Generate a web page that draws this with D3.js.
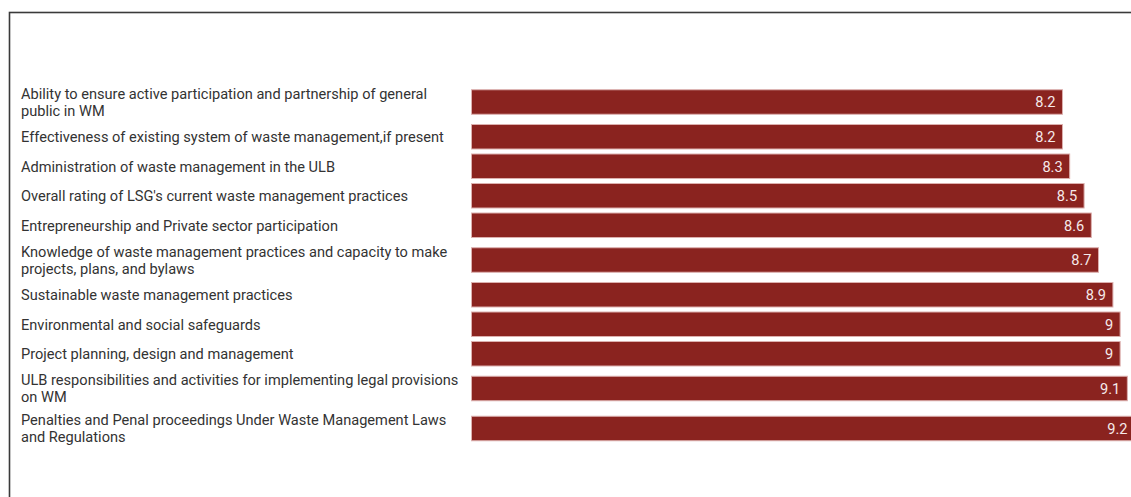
<!DOCTYPE html>
<html>
<head>
<meta charset="utf-8">
<script src="https://cdn.jsdelivr.net/npm/d3@7"></script>
<style>
  html, body { margin: 0; padding: 0; background: #fff; overflow: hidden; }
  svg { display: block; font-family: Roboto, "Noto Sans", sans-serif; }
</style>
</head>
<body>
<svg id="chart" width="1131" height="497"></svg>
<script>
// Ratings by assessment area
const categories = [
  "Ability to ensure active participation and partnership of general public in WM",
  "Effectiveness of existing system of waste management,if present",
  "Administration of waste management in the ULB",
  "Overall rating of LSG's current waste management practices",
  "Entrepreneurship and Private sector participation",
  "Knowledge of waste management practices and capacity to make projects, plans, and bylaws",
  "Sustainable waste management practices",
  "Environmental and social safeguards",
  "Project planning, design and management",
  "ULB responsibilities and activities for implementing legal provisions on WM",
  "Penalties and Penal proceedings Under Waste Management Laws and Regulations"
];
const values = [8.2, 8.2, 8.3, 8.5, 8.6, 8.7, 8.9, 9, 9, 9.1, 9.2];
const valueDomain = [0, 10];

const svg = d3.select("#chart");

// outer frame (runs off the right and bottom edges)
svg.append("rect")
  .attr("x", 9.5).attr("y", 12.5)
  .attr("width", 1200).attr("height", 600)
  .attr("fill", "none")
  .attr("stroke", "#3a3a3a")
  .attr("stroke-width", 1.6);

const labelX = 21;
const wrapWidth = 446;
const lineHeight = 17;
const fontSize = 14.6;

// measure and wrap labels
const measure = svg.append("text").attr("font-size", fontSize).attr("visibility", "hidden");
function wrap(str) {
  const words = str.split(" ");
  const lines = [];
  let cur = "";
  for (const w of words) {
    const trial = cur ? cur + " " + w : w;
    measure.text(trial);
    if (cur && measure.node().getComputedTextLength() > wrapWidth) {
      lines.push(cur);
      cur = w;
    } else {
      cur = trial;
    }
  }
  if (cur) lines.push(cur);
  return lines;
}
const wrapped = categories.map(wrap);
measure.remove();

// row heights grow with the number of label lines
const rowUnits = wrapped.map(l => (l.length > 1 ? 40 / 29.5 : 1));
const rowStart = [];
let acc = 0;
rowUnits.forEach(u => { rowStart.push(acc); acc += u; });

const y = d3.scaleLinear().domain([0, acc]).range([82, 82 + acc * 29.5]);
const x = d3.scaleLinear().domain(valueDomain).range([471.5, 1192.2]);
const barH = 24.5;

const rows = svg.append("g").selectAll("g")
  .data(categories.map((c, i) => ({ c, v: values[i], lines: wrapped[i], i })))
  .join("g")
  .attr("transform", d => `translate(0,${y(rowStart[d.i] + rowUnits[d.i] / 2)})`);

rows.append("rect")
  .attr("x", x(0))
  .attr("y", -barH / 2)
  .attr("width", d => x(d.v) - x(0))
  .attr("height", barH)
  .attr("fill", "#8a231f")
  .attr("stroke", "#dcb0ae")
  .attr("stroke-width", 1);

rows.append("text")
  .attr("x", d => x(d.v) - 7)
  .attr("y", 0)
  .attr("dy", "0.36em")
  .attr("text-anchor", "end")
  .attr("font-size", fontSize)
  .attr("fill", "#f6eaea")
  .text(d => d.v);

rows.append("text")
  .attr("font-size", fontSize)
  .attr("fill", "#333")
  .selectAll("tspan")
  .data(d => d.lines.map((t, k) => ({ t, k, n: d.lines.length })))
  .join("tspan")
  .attr("x", labelX)
  .attr("y", d => (d.k - (d.n - 1) / 2) * lineHeight)
  .attr("dy", "0.36em")
  .text(d => d.t);
</script>
</body>
</html>
